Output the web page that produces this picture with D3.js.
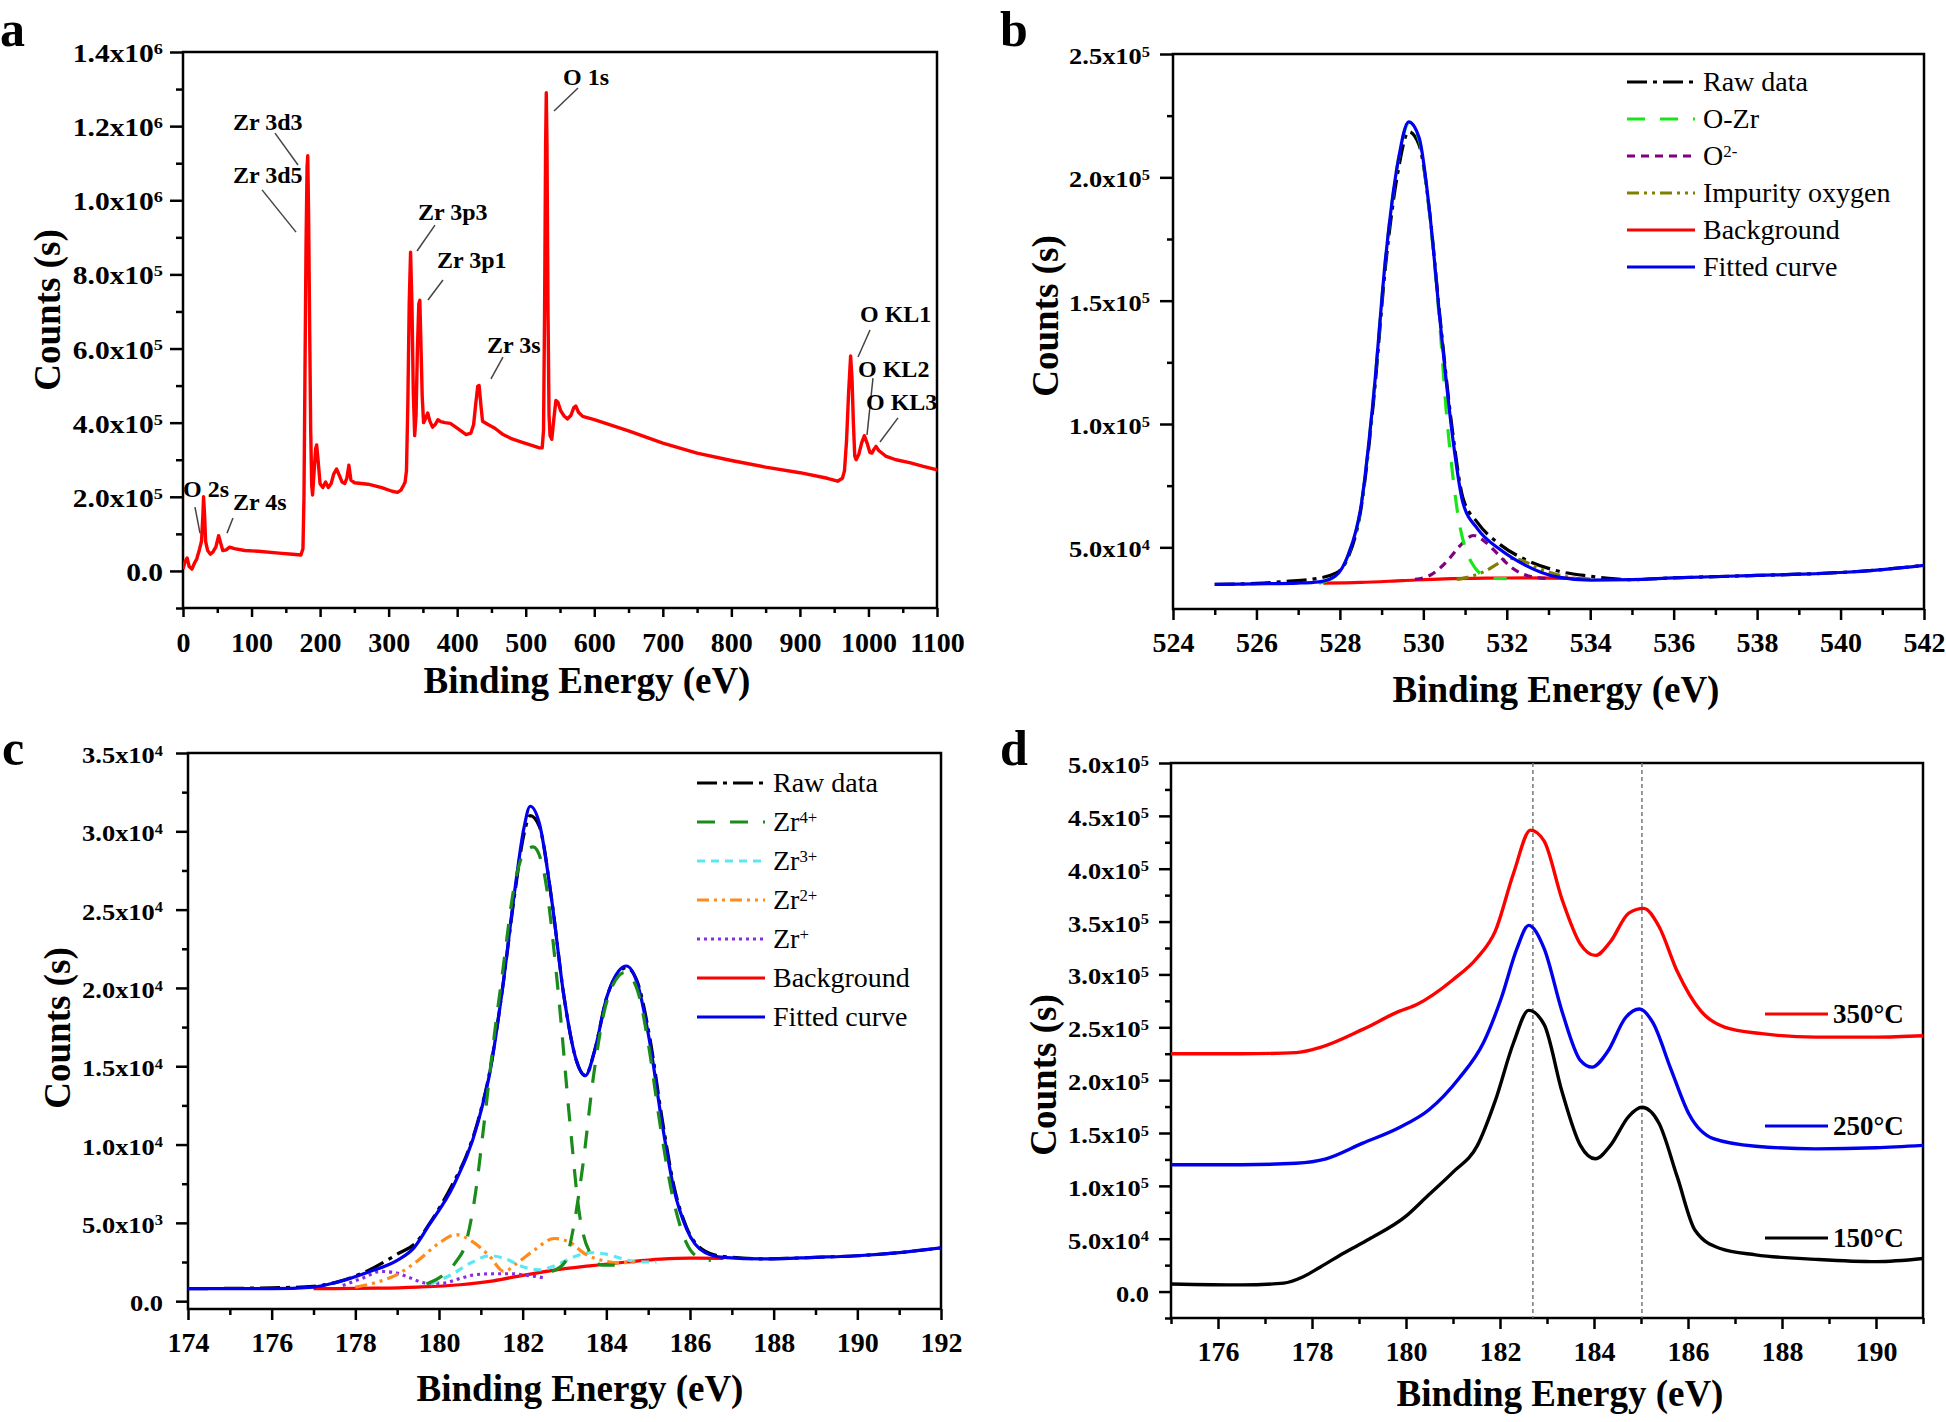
<!DOCTYPE html>
<html><head><meta charset="utf-8">
<script src="https://cdn.jsdelivr.net/npm/d3@7"></script>
<style>
body{margin:0;background:#fff}
svg{display:block}
text{font-family:"Liberation Serif","Times New Roman",serif;fill:#000}
</style>
</head><body>
<svg id="chart" width="1946" height="1422"></svg>
<script>
// ---------------- DATA ----------------
// Panel a: survey spectrum [binding energy eV, counts]
const surveyData = [[0,5000],[3,25000],[6,35000],[9,12000],[13,5000],[17,22000],[20,32000],[24,58000],[27,80000],[29,150000],[30,200000],[31.5,150000],[33,80000],[36,55000],[40,45000],[44,52000],[48,65000],[52,95000],[55,75000],[58,55000],[63,57000],[68,64000],[75,60000],[90,55000],[110,53000],[140,48000],[160,45000],[172,43000],[175,60000],[176.5,200000],[178,550000],[179.5,880000],[181,1090000],[182,1120000],[183.3,950000],[184.8,650000],[186.3,380000],[187.8,230000],[189,205000],[191,260000],[193.5,330000],[195,340000],[197,300000],[200,235000],[204,225000],[208,240000],[212,225000],[216,235000],[220,262000],[224,275000],[228,258000],[232,240000],[236,236000],[239,250000],[242,285000],[245,245000],[250,238000],[270,234000],[290,225000],[305,215000],[313,212000],[318,218000],[322,232000],[324,240000],[326,270000],[328,450000],[330,720000],[332,860000],[334,720000],[336,480000],[338,365000],[340,420000],[342,600000],[344,720000],[345.5,730000],[347,620000],[349,470000],[351,400000],[354,412000],[357,426000],[360,405000],[364,388000],[368,395000],[372,408000],[376,403000],[382,400000],[390,398000],[400,385000],[413,368000],[420,372000],[424,395000],[427,450000],[430,498000],[432,500000],[435,440000],[437,404000],[445,395000],[455,385000],[467,368000],[480,356000],[495,347000],[510,338000],[520,332000],[524,332000],[526,380000],[527.5,700000],[529,1150000],[530,1290000],[531,1150000],[532.5,700000],[534,420000],[535.5,365000],[538,355000],[541,410000],[544,460000],[547,455000],[551,432000],[556,418000],[561,410000],[566,420000],[570,440000],[573,445000],[577,428000],[583,417000],[600,408000],[650,378000],[700,345000],[750,318000],[800,298000],[850,280000],[900,265000],[940,250000],[955,242000],[962,250000],[965,270000],[968,350000],[971,480000],[974,580000],[976,520000],[978,400000],[980,310000],[982,300000],[986,315000],[990,345000],[994,365000],[998,345000],[1002,320000],[1005,318000],[1008,328000],[1011,336000],[1015,325000],[1025,310000],[1040,300000],[1060,292000],[1080,282000],[1100,273000]];
// annotations: [label, textX(eV), textY(counts), leader x1, y1, x2, y2]
const surveyPeaks = [
 ["Zr 3d3",72.9,1189000,134.2,1181000,167.8,1095000],
 ["Zr 3d5",72.9,1047000,115.3,1028000,164.9,914000],
 ["Zr 3p3",342.8,947000,367.6,933000,341.4,863000],
 ["Zr 3p1",370.6,817000,379.3,785000,357.4,731000],
 ["Zr 3s",443.5,588000,466.8,577000,449.3,518000],
 ["O 1s",554.4,1311000,576.3,1303000,541.3,1241000],
 ["O KL1",987.7,672000,1002.3,650000,984.8,577000],
 ["O KL2",984.8,523000,1006.6,520000,997.9,367000],
 ["O KL3",996.4,434000,1043.1,413000,1016.8,348000],
 ["O 2s",0,199000,17.5,172000,24.8,102000],
 ["Zr 4s",72.9,164000,72.9,143000,64.2,102000]
];
const aXTicks = [0,100,200,300,400,500,600,700,800,900,1000,1100];
const aXMinor = [50,150,250,350,450,550,650,750,850,950,1050];
const aYTicks = [0,200000,400000,600000,800000,1000000,1200000,1400000];
const aYLabels = ["0.0","2.0x10^5","4.0x10^5","6.0x10^5","8.0x10^5","1.0x10^6","1.2x10^6","1.4x10^6"];
const aYMinor = [-100000,100000,300000,500000,700000,900000,1100000,1300000];

// Panel b: O 1s
const bRaw = [[525,35000],[526,35400],[526.7,36200],[527.3,37000],[527.9,39500],[528.2,46000],[528.5,65000],[528.8,108000],[529.1,165000],[529.4,203000],[529.65,218500],[529.9,213000],[530.15,186000],[530.4,143000],[530.7,97000],[530.95,70000],[531.3,60000],[531.85,51000],[532.45,45000],[533.2,40500],[534,38300],[534.6,37200],[535,36900],[536,37600],[538,38600],[539,39100],[540,39800],[541,41000],[542,42700]];
const bOZr = [[527.5,35500],[527.9,38500],[528.2,47000],[528.5,66000],[528.8,110000],[529.1,168000],[529.4,207000],[529.65,222000],[529.9,215000],[530.15,185000],[530.4,139000],[530.55,105000],[530.7,80000],[530.85,61000],[531.0,50000],[531.15,44000],[531.35,39500],[531.6,37400],[532,37300]];
const bO2 = [[529.8,37000],[530.2,39000],[530.6,45000],[530.9,51000],[531.2,54800],[531.5,52000],[531.8,47000],[532.1,42000],[532.5,38500],[533,37300]];
const bImpurity = [[530.8,37000],[531.2,38500],[531.5,40500],[531.8,43500],[532.1,45500],[532.4,44500],[532.7,42000],[533.1,39500],[533.5,37800],[534,37000]];
const bBackground = [[527.6,35500],[528.5,35800],[529.5,36500],[530.5,37200],[531.5,37500],[532.5,37600],[533.5,37400],[534,37000]];
const bFit = [[525,35000],[526,35200],[527,35500],[527.5,36000],[527.9,38500],[528.2,47000],[528.5,66000],[528.8,110000],[529.1,168000],[529.4,207000],[529.65,222500],[529.9,216000],[530.15,186000],[530.4,142000],[530.7,95000],[530.95,68000],[531.3,57500],[531.85,49000],[532.45,42700],[533.2,38000],[534,36700],[535,36900],[536,37600],[538,38600],[539,39100],[540,39800],[541,41000],[542,42700]];
const bXTicks = [524,526,528,530,532,534,536,538,540,542];
const bXMinor = [525,527,529,531,533,535,537,539,541];
const bYTicks = [50000,100000,150000,200000,250000];
const bYLabels = ["5.0x10^4","1.0x10^5","1.5x10^5","2.0x10^5","2.5x10^5"];
const bYMinor = [75000,125000,175000,225000];
const bLegend = [["Raw data"],["O-Zr"],["O","2-"],["Impurity oxygen"],["Background"],["Fitted curve"]];

// Panel c: Zr 3d
const cRaw = [[174,800],[176,850],[177,950],[177.6,1250],[178.3,1950],[179.0,3000],[179.47,3800],[179.76,4900],[180.35,7600],[180.64,9200],[180.93,11500],[181.23,14900],[181.52,20000],[181.81,26000],[182.03,29800],[182.18,31000],[182.4,30300],[182.69,25700],[182.99,19400],[183.28,15400],[183.5,14400],[183.72,16000],[184.01,19400],[184.3,21000],[184.48,21300],[184.74,20400],[185.04,16800],[185.33,11700],[185.62,7300],[185.92,4700],[186.36,3200],[186.8,2850],[187.8,2700],[189,2800],[190,2900],[191,3100],[192,3400]];
const cZr4a = [[179.7,1100],[180.05,1570],[180.4,2500],[180.64,3700],[180.85,6500],[181.08,11400],[181.3,16500],[181.52,21000],[181.8,26500],[182.05,28700],[182.25,29000],[182.5,27500],[182.84,20000],[183.13,11400],[183.35,5700],[183.65,2900],[183.9,2300],[184.2,2300]];
const cZr4b = [[182.7,1900],[183.0,2450],[183.2,4500],[183.43,8500],[183.7,14500],[183.95,18500],[184.16,20200],[184.45,21000],[184.75,19800],[185.0,16500],[185.3,11000],[185.6,6500],[185.9,3800],[186.2,2800],[186.5,2600]];
const cZr3 = [[179.8,1100],[180.3,1700],[180.8,2500],[181.2,2900],[181.6,2700],[182.0,2200],[182.4,2000],[182.8,2300],[183.2,2800],[183.6,3100],[184.0,3000],[184.4,2700],[184.8,2500],[185.2,2500]];
const cZr2 = [[178.0,900],[178.5,1200],[179.0,1700],[179.5,2600],[180.0,3700],[180.4,4250],[180.8,3800],[181.2,2900],[181.55,1900],[181.9,2500],[182.3,3300],[182.75,4000],[183.1,3800],[183.5,3000],[183.9,2600],[184.3,2450],[184.7,2500]];
const cZr1 = [[177.7,1000],[178.2,1500],[178.6,1900],[178.9,1850],[179.3,1500],[179.7,1150],[180.1,1150],[180.5,1450],[180.9,1700],[181.3,1750],[181.7,1750],[182.1,1650],[182.5,1500]];
const cBackground = [[177.0,800],[178.5,830],[179.5,900],[180.5,1050],[181.3,1300],[182,1650],[182.8,2000],[183.6,2250],[184.5,2500],[185.3,2680],[186,2750],[186.8,2730]];
const cFit = [[174,800],[176,800],[177,900],[177.55,1200],[178.3,1850],[179.0,2600],[179.4,3400],[179.76,4850],[180.35,7400],[180.93,11400],[181.23,14800],[181.52,20000],[181.81,26200],[182.03,30200],[182.18,31600],[182.4,30500],[182.69,25700],[182.99,19400],[183.28,15400],[183.5,14400],[183.72,16000],[184.01,19400],[184.3,21100],[184.48,21400],[184.74,20300],[185.04,16500],[185.33,11400],[185.62,7100],[185.92,4600],[186.36,3100],[186.8,2800],[187.8,2700],[189,2800],[190,2900],[191,3100],[192,3400]];
const cXTicks = [174,176,178,180,182,184,186,188,190,192];
const cXMinor = [175,177,179,181,183,185,187,189,191];
const cYTicks = [0,5000,10000,15000,20000,25000,30000,35000];
const cYLabels = ["0.0","5.0x10^3","1.0x10^4","1.5x10^4","2.0x10^4","2.5x10^4","3.0x10^4","3.5x10^4"];
const cYMinor = [2500,7500,12500,17500,22500,27500,32500];
const cLegend = [["Raw data"],["Zr","4+"],["Zr","3+"],["Zr","2+"],["Zr","+"],["Background"],["Fitted curve"]];

// Panel d: temperature series
const d350 = [[175,225000],[176.5,225000],[177.66,226000],[178.18,231000],[179.08,248000],[179.85,265000],[180.23,271600],[181.0,295000],[181.52,316000],[181.9,341000],[182.29,396000],[182.65,436500],[182.94,426000],[183.32,371000],[183.71,328700],[184.03,318000],[184.35,331000],[184.74,358000],[185.06,362500],[185.38,345600],[185.77,303000],[186.28,265000],[186.79,250000],[187.57,244000],[188.72,240700],[190.01,240700],[191,242000]];
const d250 = [[175,120000],[176.5,120000],[177.66,121400],[178.3,125600],[179.08,140400],[179.85,155000],[180.49,172000],[181.13,201800],[181.65,235600],[182.03,277900],[182.36,324400],[182.61,346400],[182.94,324400],[183.32,265000],[183.71,218700],[183.96,212300],[184.29,227000],[184.67,259000],[184.97,267300],[185.25,254600],[185.64,210000],[186.02,168000],[186.54,144700],[187.44,137500],[188.72,135000],[190,136000],[191,138300]];
const d150 = [[175,7200],[176.5,6300],[177.4,8000],[177.79,13500],[178.18,23300],[178.69,36800],[179.21,49500],[179.98,70600],[180.49,91800],[181.0,113000],[181.52,138300],[181.9,180600],[182.29,235600],[182.61,266000],[182.94,252500],[183.32,189000],[183.71,138300],[184.03,125600],[184.35,138300],[184.74,165800],[185.02,174300],[185.38,159500],[185.77,108700],[186.15,58000],[186.67,41000],[187.44,34700],[188.72,30500],[190.01,28300],[191,31300]];
const dPeakLines = [182.7, 185.02];
const dLegend = ["350°C","250°C","150°C"];
const dXTicks = [176,178,180,182,184,186,188,190];
const dXMinor = [175,177,179,181,183,185,187,189,191];
const dYTicks = [0,50000,100000,150000,200000,250000,300000,350000,400000,450000,500000];
const dYLabels = ["0.0","5.0x10^4","1.0x10^5","1.5x10^5","2.0x10^5","2.5x10^5","3.0x10^5","3.5x10^5","4.0x10^5","4.5x10^5","5.0x10^5"];
const dYMinor = [-25000,25000,75000,125000,175000,225000,275000,325000,375000,425000,475000];

// ---------------- DRAWING ----------------
const svg = d3.select("#chart");
const BLACK = "#000";

function panel(o){
  const g = svg.append("g");
  const x = d3.scaleLinear().domain(o.xDomain).range([o.left,o.right]);
  const y = d3.scaleLinear().domain(o.yDomain).range([o.bottom,o.top]);
  const xa = g.append("g").attr("transform",`translate(0,${o.bottom})`)
    .call(d3.axisBottom(x).tickValues(o.xTicks).tickSize(o.xMaj).tickFormat(d3.format("d")));
  const xm = g.append("g").attr("transform",`translate(0,${o.bottom})`)
    .call(d3.axisBottom(x).tickValues(o.xMinor).tickSize(o.xMin).tickFormat(""));
  const ya = g.append("g").attr("transform",`translate(${o.left},0)`)
    .call(d3.axisLeft(y).tickValues(o.yTicks).tickSize(o.yMaj).tickFormat(""));
  const ym = g.append("g").attr("transform",`translate(${o.left},0)`)
    .call(d3.axisLeft(y).tickValues(o.yMinor).tickSize(o.yMin).tickFormat(""));
  [xa,xm,ya,ym].forEach(a=>{a.select(".domain").remove();a.selectAll("line").attr("stroke",BLACK).attr("stroke-width",2.5);});
  xa.selectAll("text").attr("y",o.xLabOff).attr("dy",null)
    .style("font-family",'"Liberation Serif","Times New Roman",serif')
    .attr("font-size",o.xFont).attr("font-weight","bold").attr("fill",BLACK);
  o.yTicks.forEach((v,i)=>{
    const parts = o.yLabels[i].split("^");
    const t = g.append("text")
      .attr("transform",`translate(${o.left-o.yGap},${y(v)+o.yDy}) scale(${o.ySx},1)`)
      .attr("text-anchor","end").attr("font-size",o.yFont).attr("font-weight","bold");
    t.append("tspan").text(parts[0]);
    if(parts[1]) t.append("tspan").attr("dy","-0.52em").attr("font-size","0.62em").text(parts[1]);
  });
  g.append("rect").attr("x",o.left).attr("y",o.top).attr("width",o.right-o.left).attr("height",o.bottom-o.top)
    .attr("fill","none").attr("stroke",BLACK).attr("stroke-width",2.5);
  const cid = "clip"+o.id;
  svg.append("clipPath").attr("id",cid).append("rect")
    .attr("x",o.left).attr("y",o.top).attr("width",o.right-o.left).attr("height",o.bottom-o.top);
  const plot = g.append("g").attr("clip-path",`url(#${cid})`);
  g.append("text").attr("x",o.xtX).attr("y",o.xtY).attr("text-anchor","middle")
    .attr("font-size",37).attr("font-weight","bold").text("Binding Energy (eV)");
  g.append("text").attr("transform",`translate(${o.ytX},${o.ytY}) rotate(-90)`).attr("text-anchor","middle")
    .attr("font-size",37).attr("font-weight","bold").text("Counts (s)");
  g.append("text").attr("x",o.letX).attr("y",o.letY).attr("font-size",50).attr("font-weight","bold").text(o.letter);
  return {g,plot,x,y};
}

function drawLine(p, data, color, dash, width, curve){
  const line = d3.line().x(d=>p.x(d[0])).y(d=>p.y(d[1])).curve(curve||d3.curveMonotoneX);
  p.plot.append("path").datum(data).attr("d",line).attr("fill","none")
    .attr("stroke",color).attr("stroke-width",width||3.2).attr("stroke-dasharray",dash||null)
    .attr("stroke-linejoin","round");
}

function legendRow(g, x1, x2, tx, yc, color, dash, parts, size, weight){
  g.append("line").attr("x1",x1).attr("x2",x2).attr("y1",yc).attr("y2",yc)
    .attr("stroke",color).attr("stroke-width",3.2).attr("stroke-dasharray",dash||null);
  const t = g.append("text").attr("x",tx).attr("y",yc+9).attr("font-size",size).attr("font-weight",weight||"normal");
  t.append("tspan").text(parts[0]);
  if(parts[1]) t.append("tspan").attr("dy","-0.5em").attr("font-size","0.6em").text(parts[1]);
}

// ---- Panel a ----
const pa = panel({id:"a",letter:"a",letX:0,letY:46,left:183,right:937,top:52,bottom:608,
  xDomain:[0,1100],yDomain:[-100000,1400000],xTicks:aXTicks,xMinor:aXMinor,yTicks:aYTicks,yLabels:aYLabels,yMinor:aYMinor,
  xMaj:9,xMin:5,yMaj:13,yMin:7,xLabOff:44,xFont:28,yGap:20,yDy:10,yFont:25,ySx:1.18,
  xtX:587,xtY:693,ytX:60,ytY:310});
drawLine(pa, surveyData, "#ff0000", null, 3.4, d3.curveLinear);
surveyPeaks.forEach(a=>{
  pa.g.append("line").attr("x1",pa.x(a[3])).attr("y1",pa.y(a[4])).attr("x2",pa.x(a[5])).attr("y2",pa.y(a[6]))
    .attr("stroke","#444").attr("stroke-width",1.5);
  pa.g.append("text").attr("x",pa.x(a[1])).attr("y",pa.y(a[2])).attr("font-size",24).attr("font-weight","bold").text(a[0]);
});

// ---- Panel b ----
const DASH_RAW = "20,6,4,6", DASH_LONG = "18,15", DASH_SHORT = "8,6", DASH_DDOT = "12,5,3,5,3,5", DASH_DOT = "3,4";
const pb = panel({id:"b",letter:"b",letX:1000,letY:46,left:1173,right:1924,top:54,bottom:609,
  xDomain:[524,542],yDomain:[25000,250000],xTicks:bXTicks,xMinor:bXMinor,yTicks:bYTicks,yLabels:bYLabels,yMinor:bYMinor,
  xMaj:11,xMin:6,yMaj:13,yMin:6,xLabOff:43,xFont:28,yGap:23,yDy:10,yFont:23,ySx:1.15,
  xtX:1556,xtY:702,ytX:1058,ytY:316});
const bStyles = [[BLACK,DASH_RAW],["#19e619",DASH_LONG],["#800080",DASH_SHORT],["#808000",DASH_DDOT],["#ff0000",null],["#0000ee",null]];
drawLine(pb, bRaw, bStyles[0][0], bStyles[0][1]);
drawLine(pb, bBackground, bStyles[4][0], null);
drawLine(pb, bImpurity, bStyles[3][0], bStyles[3][1]);
drawLine(pb, bO2, bStyles[2][0], bStyles[2][1]);
drawLine(pb, bOZr, bStyles[1][0], bStyles[1][1]);
drawLine(pb, bFit, bStyles[5][0], null);
bLegend.forEach((l,i)=>legendRow(pb.g,1627,1695,1703,82+i*37,bStyles[i][0],bStyles[i][1],l,28));

// ---- Panel c ----
const pc = panel({id:"c",letter:"c",letX:2,letY:765,left:188,right:941,top:753,bottom:1309,
  xDomain:[174,192],yDomain:[-500,35000],xTicks:cXTicks,xMinor:cXMinor,yTicks:cYTicks,yLabels:cYLabels,yMinor:cYMinor,
  xMaj:11,xMin:6,yMaj:12,yMin:6,xLabOff:43,xFont:28,yGap:25,yDy:10,yFont:23,ySx:1.15,
  xtX:580,xtY:1401,ytX:70,ytY:1028});
const cStyles = [[BLACK,DASH_RAW],["#1a8c1a",DASH_LONG],["#5ce8f2",DASH_SHORT],["#ff8c1a",DASH_DDOT],["#8a2be2",DASH_DOT],["#ff0000",null],["#0000ee",null]];
drawLine(pc, cRaw, cStyles[0][0], cStyles[0][1]);
drawLine(pc, cBackground, cStyles[5][0], null);
drawLine(pc, cZr1, cStyles[4][0], cStyles[4][1]);
drawLine(pc, cZr3, cStyles[2][0], cStyles[2][1]);
drawLine(pc, cZr2, cStyles[3][0], cStyles[3][1]);
drawLine(pc, cFit, cStyles[6][0], null);
drawLine(pc, cZr4a, cStyles[1][0], cStyles[1][1]);
drawLine(pc, cZr4b, cStyles[1][0], cStyles[1][1]);
cLegend.forEach((l,i)=>legendRow(pc.g,697,765,773,783+i*39,cStyles[i][0],cStyles[i][1],l,28));

// ---- Panel d ----
const pd = panel({id:"d",letter:"d",letX:1000,letY:765,left:1171,right:1923,top:763,bottom:1318,
  xDomain:[175,191],yDomain:[-25000,500000],xTicks:dXTicks,xMinor:dXMinor,yTicks:dYTicks,yLabels:dYLabels,yMinor:dYMinor,
  xMaj:11,xMin:6,yMaj:12,yMin:6,xLabOff:43,xFont:28,yGap:22,yDy:10,yFont:23,ySx:1.15,
  xtX:1560,xtY:1406,ytX:1056,ytY:1075});
dPeakLines.forEach(v=>{
  pd.plot.append("line").attr("x1",pd.x(v)).attr("x2",pd.x(v)).attr("y1",pd.y(500000)).attr("y2",pd.y(-25000))
    .attr("stroke","#777").attr("stroke-width",1.5).attr("stroke-dasharray","4,3");
});
const dColors = ["#ff0000","#0000ee","#000000"];
[d350,d250,d150].forEach((s,i)=>drawLine(pd, s, dColors[i], null, 3.4));
dLegend.forEach((l,i)=>legendRow(pd.g,1765,1828,1833,1014+i*112,dColors[i],null,[l],27,"bold"));
</script>
</body></html>
